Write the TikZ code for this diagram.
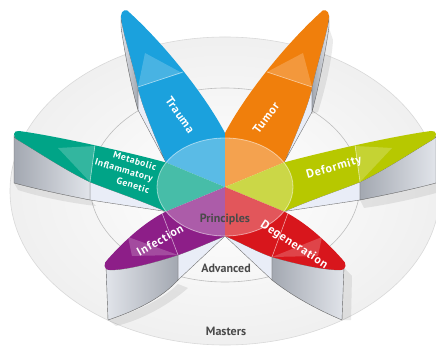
\documentclass[tikz,border=0pt]{standalone}
\usepackage{fontspec}
\setmainfont{PT Sans}
\newfontfamily\petal[LetterSpace=6]{PT Sans}
\usepackage{tikz}
\usetikzlibrary{calc}
\usetikzlibrary{positioning}
\definecolor{trauma}{HTML}{1BA1DD}
\definecolor{tumor}{HTML}{F07F0C}
\definecolor{deform}{HTML}{B7C800}
\definecolor{degen}{HTML}{D8161C}
\definecolor{infect}{HTML}{8D1E88}
\definecolor{metab}{HTML}{00A487}
\definecolor{lav}{HTML}{E9EDF7}
\definecolor{wallA}{HTML}{E1E4EA}
\definecolor{wallB}{HTML}{A3A8B1}
\definecolor{ring}{HTML}{BDBDBD}
\definecolor{labgray}{HTML}{4A4A4A}

\begin{document}
\begin{tikzpicture}[x=1pt, y=-1pt,
  wall/.style={draw=black!60, line width=0.4pt},
  under/.style={fill=lav, draw=black!55, line width=0.4pt},
  castshadow/.style={fill=black, fill opacity=0.08},
  glint/.style={fill=white, fill opacity=0.2},
  fold/.style={draw=white, draw opacity=0.6, line width=0.6pt},
  lbl/.style={text=white, font=\petal\bfseries\fontsize{12}{13}\selectfont, align=center},
  ringlbl/.style={text=labgray, font=\bfseries\fontsize{12}{13}\selectfont}]
\useasboundingbox (0,0) rectangle (436,347);
\fill[white] (0,0) rectangle (436,347);
\coordinate (C) at (225,187);
\coordinate (P30) at (284,162.5);
\coordinate (P150) at (166,162.5);
\coordinate (P210) at (166,211.5);
\coordinate (P270) at (225,236);
\coordinate (P330) at (284,211.5);

\draw[black!15, line width=0.6pt, inner color=white, outer color=black!6] (225,191) ellipse (215 and 154);
\draw[ring, line width=0.6pt] (225,185) ellipse (135 and 97);

\fill[castshadow] (108,320) .. controls (135,312) and (162,300) .. (178,284) -- (188,288) .. controls (170,304) and (142,320) .. (116,326) -- cycle;
\fill[castshadow] (344,268) -- (352,276) -- (351,320) -- (342,320) -- cycle;
\fill[castshadow] (360,200) .. controls (380,196) and (410,190) .. (436,183) -- (436,193) .. controls (410,200) and (385,205) .. (364,208) -- cycle;
\fill[castshadow] (14,183) .. controls (40,190) and (70,196) .. (90,200) -- (96,206) .. controls (70,203) and (40,197) .. (18,190) -- cycle;
\fill[castshadow] (329,28) .. controls (325,57) and (318,92) .. (312,114) -- (318,112) .. controls (325,90) and (332,60) .. (333,40) -- cycle;

\draw[under] (P150) .. controls (152,130) and (140,100) .. (138,87) -- (138,110) -- cycle;
\draw[wall, left color=wallA, right color=wallB] (121,16) -- (121,27) .. controls (125,55) and (132,90) .. (138,110) -- (138,87) .. controls (132,60) and (122,30) .. (121,16) -- cycle;
\fill[trauma] (C) -- (P150) .. controls (152,130) and (140,100) .. (138,87) .. controls (132,60) and (122,30) .. (121,16) .. controls (121,10) and (127,8) .. (130,13) .. controls (165,45) and (205,95) .. (225,133) -- cycle;
\fill[glint] (145,53) -- (138,87) -- (182,73) -- cycle;
\draw[fold] (138,87) -- (183,72);

\draw[under] (P30) .. controls (298,130) and (310,100) .. (312,87) -- (312,112) -- cycle;
\draw[wall, left color=wallB, right color=wallA] (329,16) -- (329,27) .. controls (325,55) and (318,90) .. (312,112) -- (312,87) .. controls (318,60) and (328,30) .. (329,16) -- cycle;
\fill[tumor] (C) -- (P30) .. controls (298,130) and (310,100) .. (312,87) .. controls (318,60) and (328,30) .. (329,16) .. controls (329,10) and (323,8) .. (320,13) .. controls (285,45) and (245,95) .. (225,133) -- cycle;
\fill[glint] (303,53) -- (312,87) -- (267,72) -- cycle;
\draw[fold] (312,87) -- (267,72);

\draw[under] (P210) .. controls (140,200) and (110,190) .. (90,182) -- (90,200) -- cycle;
\draw[wall, left color=wallB, right color=wallA] (90,182) .. controls (65,170) and (35,150) .. (18,140) .. controls (15,138) and (14,137) .. (14,136) -- (14,183) .. controls (40,190) and (70,196) .. (90,200) -- cycle;
\fill[metab] (C) -- (P210) .. controls (140,200) and (110,190) .. (90,182) .. controls (65,170) and (35,150) .. (18,140) .. controls (12,137) and (13,130) .. (19,131) .. controls (50,135) and (120,150) .. (P150) -- cycle;
\fill[glint] (58,148) -- (95,146) -- (90,182) -- cycle;
\draw[fold] (95,145) -- (90,182);

\draw[under] (P330) .. controls (310,200) and (340,190) .. (360,182) -- (360,200) -- cycle;
\draw[wall, left color=wallB, right color=wallA] (360,182) .. controls (385,170) and (415,150) .. (432,140) .. controls (435,138) and (436,137) .. (436,136) -- (436,183) .. controls (410,190) and (380,196) .. (360,200) -- cycle;
\fill[deform] (C) -- (P330) .. controls (310,200) and (340,190) .. (360,182) .. controls (385,170) and (415,150) .. (432,140) .. controls (438,137) and (437,130) .. (431,131) .. controls (400,135) and (330,150) .. (P30) -- cycle;
\fill[glint] (392,148) -- (355,146) -- (360,182) -- cycle;
\draw[fold] (355,145) -- (360,182);

\draw[under] (P270) .. controls (210,242) and (195,249) .. (178,255) -- (178,280) -- cycle;
\draw[wall, left color=wallA, right color=wallB] (178,255) .. controls (150,264) and (125,270) .. (110,270) .. controls (107,270) and (106,268) .. (106,266) -- (108,320) .. controls (132,312) and (160,300) .. (178,280) -- cycle;
\fill[infect] (C) -- (P270) .. controls (210,242) and (195,249) .. (178,255) .. controls (150,264) and (125,270) .. (110,270) .. controls (103,270) and (103,263) .. (108,259) .. controls (125,240) and (145,222) .. (P210) -- cycle;
\fill[glint] (128,237) -- (178,255) -- (132,256) -- cycle;
\draw[fold] (162,213) -- (178,255);

\draw[under] (P270) .. controls (240,242) and (255,251) .. (272,257) -- (272,280) -- cycle;
\draw[wall, left color=wallB, right color=wallA] (272,257) .. controls (300,265) and (325,270) .. (340,270) .. controls (343,270) and (344,268) .. (344,266) -- (342,320) .. controls (318,310) and (292,296) .. (272,280) -- cycle;
\fill[degen] (C) -- (P270) .. controls (240,242) and (255,251) .. (272,257) .. controls (300,265) and (325,270) .. (340,270) .. controls (347,270) and (347,263) .. (342,259) .. controls (325,240) and (305,222) .. (P330) -- cycle;
\fill[glint] (322,237) -- (272,257) -- (318,256) -- cycle;
\draw[fold] (288,213) -- (272,257);

\draw[white, line width=0.8pt, draw opacity=0.5, fill=white, fill opacity=0.28] (C) ellipse (68 and 49);

\node[ringlbl] (masters) at (226,331) {Masters};
\node[ringlbl] (advanced) at (226,268) {Advanced};
\node[ringlbl] (principles) at (225,219) {Principles};

\foreach \x/\y/\r/\t [count=\i] in {180/115/-55/Trauma, 266/118/53/Tumor, 334/168/16/Deformity, 160/240/29/Infection, 294/245/-33/Degeneration}
  \node[lbl, rotate=\r] (l\i) at (\x,\y) {\t};
\node[lbl, rotate=-17, align=right, font=\petal\bfseries\fontsize{9.5}{12}\selectfont] (meta) at (124,170) {Metabolic\\Inflammatory\\Genetic};
\end{tikzpicture}
\end{document}
